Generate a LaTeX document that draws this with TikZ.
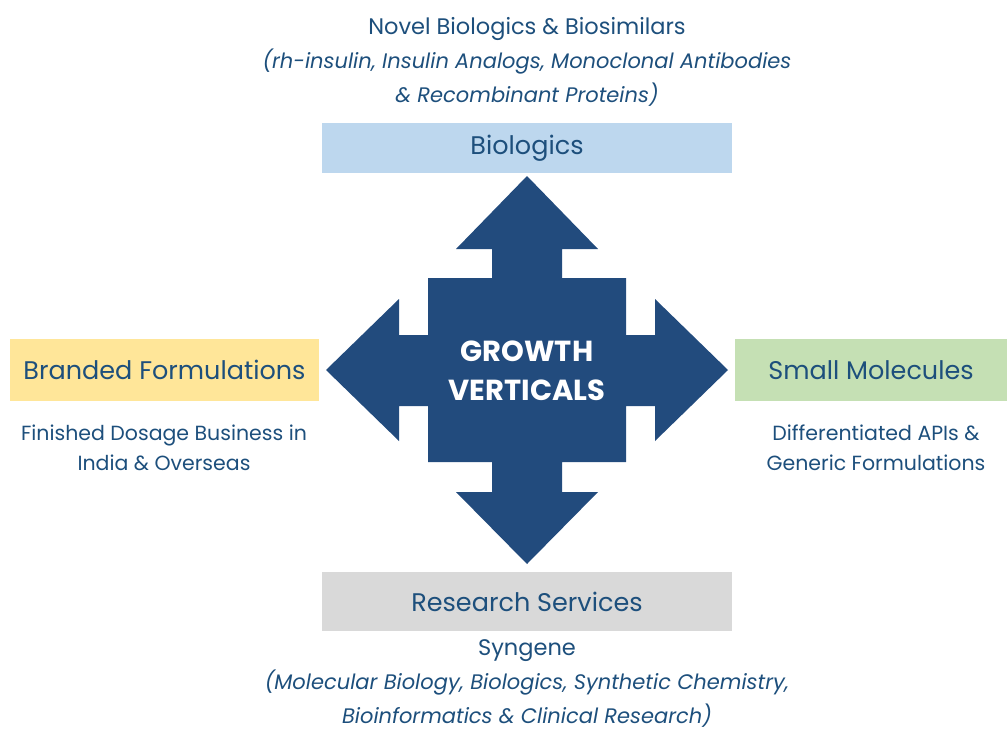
\documentclass[tikz,border=0pt]{standalone}
\usepackage{fontspec}
\setmainfont{Poppins}
\usepackage{tikz}
\usetikzlibrary{positioning}
\definecolor{vertblue}{HTML}{224B7D}
\definecolor{labelblue}{HTML}{1D4F7C}
\definecolor{bioblue}{HTML}{BDD7EE}
\definecolor{brandyellow}{HTML}{FFE699}
\definecolor{smallgreen}{HTML}{C5E0B4}
\definecolor{researchgray}{HTML}{D9D9D9}

\begin{document}
\begin{tikzpicture}[x=1pt,y=-1pt]
	\tikzstyle{BoxStyle}  = [inner sep=0pt, text=labelblue, font=\fontsize{25.5}{30}\selectfont]
	\tikzstyle{DescStyle} = [inner sep=0pt, align=center, text=labelblue, font=\fontsize{20.5}{30}\selectfont]
	\tikzstyle{NoteStyle} = [inner sep=0pt, align=center, text=labelblue, font=\fontsize{21}{34}\selectfont]
	\useasboundingbox (0,0) rectangle (1007,731);
	%\draw[help lines,step=50] (0,0) grid (1007,731);
	
	% the four-way arrow
	\fill[vertblue] (527,176) -- (598,249) -- (562,249) -- (562,278) -- (626,278) -- (626,335)
		-- (655,335) -- (655,299) -- (728,370) -- (655,441) -- (655,406) -- (626,406)
		-- (626,462) -- (562,462) -- (562,492) -- (598,492) -- (527,564) -- (456,492)
		-- (492,492) -- (492,462) -- (428,462) -- (428,406) -- (399,406) -- (399,441)
		-- (326,370) -- (399,299) -- (399,335) -- (428,335) -- (428,278) -- (492,278)
		-- (492,249) -- (456,249) -- cycle;
	\node[align=center, text=white, font=\fontsize{29}{39}\selectfont\bfseries] (growth) at (527,371) {GROWTH\\VERTICALS};
	
	\node[BoxStyle, fill=bioblue, minimum width=410pt, minimum height=50pt] (bio) at (527,148) {Biologics};
	\node[BoxStyle, fill=brandyellow, minimum width=309pt, minimum height=62pt] (brand) at (164.5,370) {Branded Formulations};
	\node[BoxStyle, fill=smallgreen, minimum width=272pt, minimum height=62pt] (small) at (871,370) {Small Molecules};
	\node[BoxStyle, fill=researchgray, minimum width=410pt, minimum height=59pt] (research) at (527,601.5) {Research Services};
	
	\node[NoteStyle] (biodesc) at (527,62) {{\fontsize{22.5}{34}\selectfont Novel Biologics \& Biosimilars}\\\textit{(rh-insulin, Insulin Analogs, Monoclonal Antibodies}\\\textit{\& Recombinant Proteins)}};
	\node[DescStyle] (branddesc) at (164,448) {Finished Dosage Business in\\India \& Overseas};
	\node[DescStyle] (smalldesc) at (876,448) {Differentiated APIs \&\\Generic Formulations};
	\node[NoteStyle] (researchdesc) at (527,684) {{\fontsize{22.5}{34}\selectfont Syngene}\\\textit{(Molecular Biology, Biologics, Synthetic Chemistry,}\\\textit{Bioinformatics \& Clinical Research)}};
\end{tikzpicture}
\end{document}
